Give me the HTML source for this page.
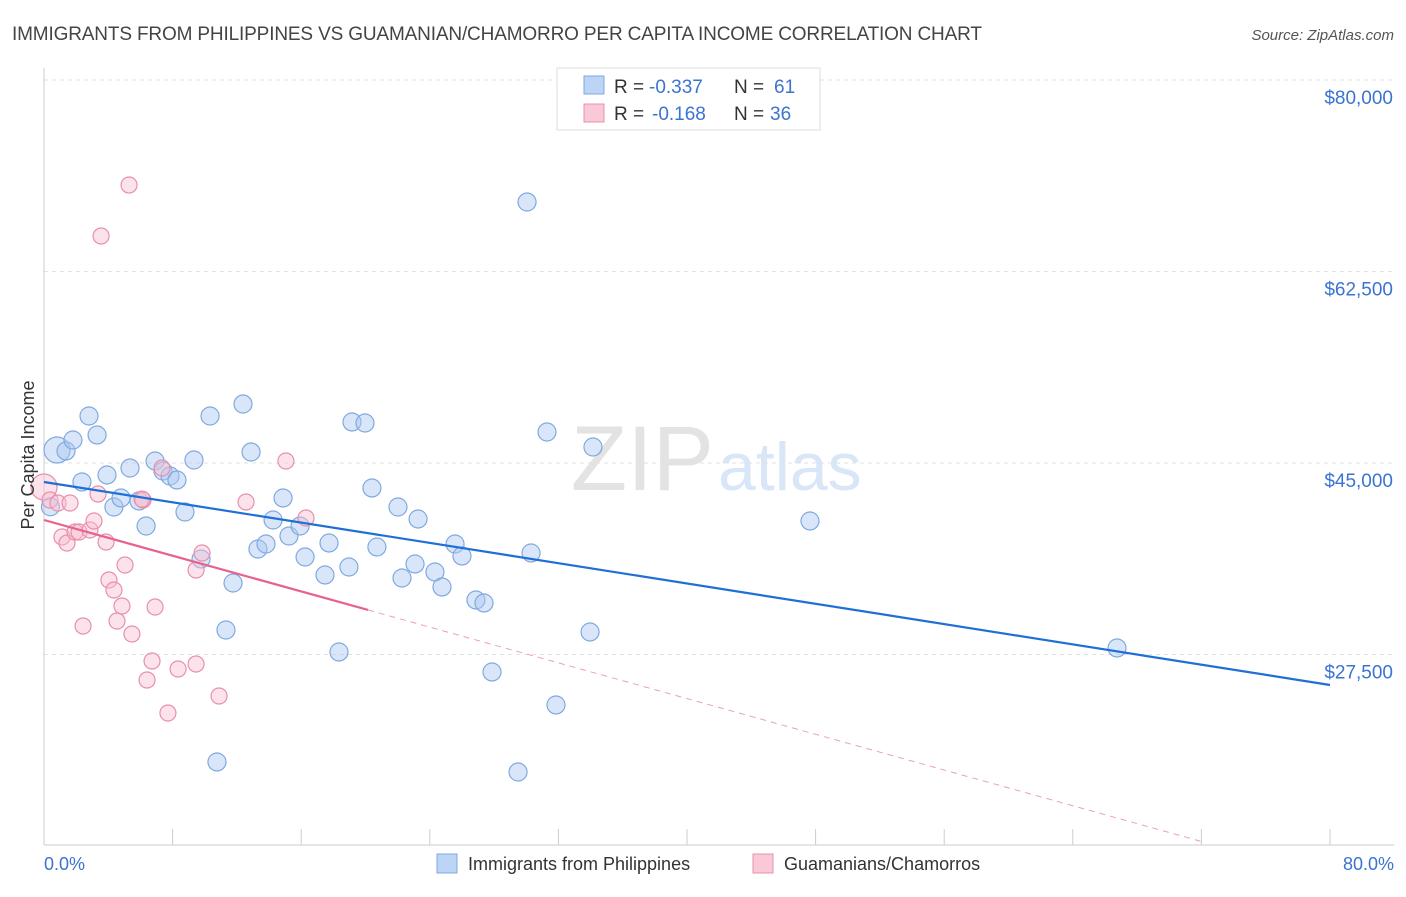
<!DOCTYPE html>
<html><head><meta charset="utf-8"><style>
body{margin:0;background:#fff;font-family:"Liberation Sans",sans-serif;}
svg text{font-family:"Liberation Sans",sans-serif;}
</style></head><body>
<svg id="chart" width="1406" height="892">
<text x="12" y="40" font-size="19" fill="#444" textLength="970">IMMIGRANTS FROM PHILIPPINES VS GUAMANIAN/CHAMORRO PER CAPITA INCOME CORRELATION CHART</text>
<text x="1394" y="40" font-size="15" fill="#555" font-style="italic" text-anchor="end">Source: ZipAtlas.com</text>
<text x="714" y="490" font-size="92" fill="#e3e3e3" text-anchor="end" font-family="Liberation Serif">ZIP</text>
<text x="718" y="490" font-size="68" fill="#d9e6f7">atlas</text>
<g id="grid"></g>
<g id="axes"></g>
<g id="marks"></g>
<text x="34" y="455" font-size="18" fill="#333" text-anchor="middle" transform="rotate(-90 34 455)">Per Capita Income</text>
<text x="44" y="870" font-size="18" fill="#3b73d1">0.0%</text>
<text x="1394" y="870" font-size="18" fill="#3b73d1" text-anchor="end">80.0%</text>
<g>
<rect x="557" y="68" width="263" height="62" fill="#fff" stroke="#ddd"/>
<rect x="584" y="76" width="20" height="18" fill="#bcd4f5" stroke="#7fa9e0"/>
<rect x="584" y="104" width="20" height="18" fill="#f9c9d7" stroke="#e890ab"/>
<text x="614" y="93" font-size="19" fill="#333">R =</text>
<text x="649" y="93" font-size="19" fill="#3b73d1">-0.337</text>
<text x="734" y="93" font-size="19" fill="#333">N =</text>
<text x="774" y="93" font-size="19" fill="#3b73d1">61</text>
<text x="614" y="120" font-size="19" fill="#333">R =</text>
<text x="652" y="120" font-size="19" fill="#3b73d1">-0.168</text>
<text x="734" y="120" font-size="19" fill="#333">N =</text>
<text x="770" y="120" font-size="19" fill="#3b73d1">36</text>
</g>
<g>
<rect x="437" y="854" width="20" height="19" fill="#bcd4f5" stroke="#7fa9e0"/>
<text x="468" y="870" font-size="18" fill="#333">Immigrants from Philippines</text>
<rect x="753" y="854" width="20" height="19" fill="#f9c9d7" stroke="#e890ab"/>
<text x="784" y="870" font-size="18" fill="#333">Guamanians/Chamorros</text>
</g>
</svg>
<script>
const yTicks=[27500,45000,62500,80000];
const yTickLabels=["$27,500","$45,000","$62,500","$80,000"];
const blueX=[0.81,1.37,1.80,2.80,3.30,2.36,3.92,4.35,4.79,5.35,5.91,6.35,6.91,7.40,7.84,8.27,8.77,9.33,9.77,10.33,10.76,11.32,11.76,12.38,12.88,13.31,13.81,14.25,14.87,15.24,15.93,16.24,17.48,17.73,18.35,18.97,19.16,19.97,20.40,20.71,22.02,22.27,23.08,23.27,24.32,24.76,25.57,26.00,26.87,27.37,27.87,29.49,30.05,30.30,31.29,31.85,33.97,34.15,47.65,66.75,0.4];
const blueY=[46188,46097,47102,49295,47559,43264,43904,40979,41802,44543,41528,39243,45183,44269,43812,43447,40522,45274,36228,49295,17677,29739,34034,50391,46005,37141,37598,39791,41802,38329,39243,36410,34766,37690,27729,35496,48747,48655,42716,37324,40979,34491,35771,39883,35040,33669,37598,36502,32481,32207,25901,16762,68850,36776,47833,22886,29557,46462,39700,28095,41000];
const pinkX=[0.0,0.37,0.87,1.62,1.12,1.43,1.93,2.18,2.43,2.86,3.11,3.36,3.55,3.86,4.04,4.35,4.54,4.85,5.04,5.29,5.47,6.16,6.41,6.72,6.91,7.34,7.71,8.34,9.46,9.46,9.83,10.89,12.57,15.05,16.30,6.1];
const pinkY=[42807,41619,41345,41345,38238,37690,38695,38695,30105,38877,39700,42167,65743,37781,34308,33395,30562,31933,35679,70404,29374,41619,25170,26907,31841,44543,22155,26176,26633,35222,36776,23708,41436,45183,39974,41700];
const blueTrend=[43264,24714];
const pinkTrendX=[0,20.16,72.04];
const pinkTrendY=[39791,31567,10399];
const X=p=>44+p/80*1286;
const Y=v=>463-(v-45000)*191.5/17500;
const NS="http://www.w3.org/2000/svg";
function mk(tag,attrs,parent){const e=document.createElementNS(NS,tag);for(const k in attrs)e.setAttribute(k,attrs[k]);document.getElementById(parent).appendChild(e);return e;}
yTicks.forEach((t,i)=>{
 const l=mk('line',{x1:44,x2:1394,y1:Y(t),y2:Y(t),stroke:'#e2e2e2','stroke-dasharray':'4,4'},'grid');
 
 
 const tx=mk('text',{x:1393,y:Y(t)+24,'font-size':19,fill:'#3b73d1','text-anchor':'end'},'grid');
 tx.textContent=yTickLabels[i];
 
 
});
const ax=mk('line',{x1:44,x2:44,y1:68,y2:845,stroke:'#ccc'},'axes');


const bx=mk('line',{x1:44,x2:1394,y1:845,y2:845,stroke:'#ccc'},'axes');


for(let p=8;p<=80;p+=8){
 const t=mk('line',{x1:X(p),x2:X(p),y1:829,y2:845,stroke:'#ccc'},'axes');
 
 
}
blueX.forEach((x,i)=>{
 const c=mk('circle',{cx:X(x),cy:Y(blueY[i]),r:(i<1?13:9),fill:'rgba(170,200,242,0.45)',stroke:'#7fa9e0','stroke-width':1.2},'marks');
 
 
});
pinkX.forEach((x,i)=>{
 const c=mk('circle',{cx:X(x),cy:Y(pinkY[i]),r:(i<1?13:8),fill:'rgba(248,190,208,0.45)',stroke:'#e890ab','stroke-width':1.2},'marks');
 
 
});
const bl=mk('line',{x1:X(0),y1:Y(blueTrend[0]),x2:X(80),y2:Y(blueTrend[1]),stroke:'#1f6fd6','stroke-width':2.2},'marks');


const pl=mk('line',{x1:X(pinkTrendX[0]),y1:Y(pinkTrendY[0]),x2:X(pinkTrendX[1]),y2:Y(pinkTrendY[1]),stroke:'#e8628f','stroke-width':2.2},'marks');


const pd=mk('line',{x1:X(pinkTrendX[1]),y1:Y(pinkTrendY[1]),x2:X(pinkTrendX[2]),y2:Y(pinkTrendY[2]),stroke:'#eaa0b8','stroke-width':1,'stroke-dasharray':'6,5'},'marks');


</script>
</body></html>
